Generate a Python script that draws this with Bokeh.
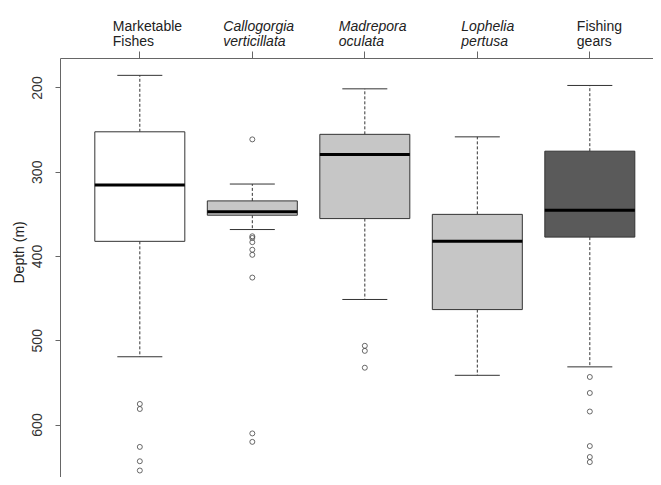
from bokeh.plotting import figure
from bokeh.layouts import column
from bokeh.models import Range1d, LinearAxis, FixedTicker, ColumnDataSource, Title
from bokeh.core.properties import value
from bokeh.embed import file_html
from bokeh.resources import INLINE

# ---------------- data ----------------
categories = ["Marketable Fishes", "Callogorgia verticillata", "Madrepora oculata",
              "Lophelia pertusa", "Fishing gears"]
label_line1 = ["Marketable", "Callogorgia", "Madrepora", "Lophelia", "Fishing"]
label_line2 = ["Fishes", "verticillata", "oculata", "pertusa", "gears"]
label_italic = [False, True, True, True, False]

whisker_top = [185, 314, 201, 258, 197]
q1 = [252, 334, 255, 350, 275]
median = [315, 347, 279, 382, 345]
q3 = [382, 351, 355, 463, 377]
whisker_bottom = [519, 368, 451, 541, 531]

outliers_marketable = [575, 581, 626, 643, 654]
outliers_callogorgia = [261, 376, 378, 383, 392, 398, 425, 610, 620]
outliers_madrepora = [506, 512, 532]
outliers_lophelia = []
outliers_fishing = [543, 562, 584, 625, 638, 644]

y_ticks = [200, 300, 400, 500, 600]

# ---------------- styles ----------------
box_fill = ["#ffffff", "#c6c6c6", "#c6c6c6", "#c6c6c6", "#5a5a5a"]
label_x_offset = [-27, -29, -26, -16, -13]
FONT = "Liberation Sans"
box_width = 0.8
staple_width = 0.4
W = 653
HEADER_H = 51
MAIN_H = 426

positions = list(range(1, len(categories) + 1))
outliers = [outliers_marketable, outliers_callogorgia, outliers_madrepora,
            outliers_lophelia, outliers_fishing]
out_x = [positions[i] for i, o in enumerate(outliers) for _ in o]
out_y = [v for o in outliers for v in o]

src = ColumnDataSource(dict(
    x=positions, q1=q1, q3=q3, med=median, wt=whisker_top, wb=whisker_bottom,
    fill=box_fill,
    bl=[x - box_width / 2 for x in positions], br=[x + box_width / 2 for x in positions],
    sl=[x - staple_width / 2 for x in positions], sr=[x + staple_width / 2 for x in positions],
))

x_range = Range1d(0.295, 5.566)

# ---------------- header with category labels ----------------
hdr = figure(width=W, height=HEADER_H, output_backend="svg", toolbar_location=None,
             x_range=x_range, y_range=Range1d(0, HEADER_H),
             x_axis_location=None, y_axis_location=None,
             min_border_left=60, min_border_right=0, min_border_top=0, min_border_bottom=0,
             outline_line_color=None, border_fill_color="white", background_fill_color="white")
hdr.grid.grid_line_color = None
lab_src = ColumnDataSource(dict(
    x=positions, l1=label_line1, l2=label_line2, dx=label_x_offset,
    style=["italic" if it else "normal" for it in label_italic],
    y1=[26] * len(positions), y2=[11] * len(positions),
))
for col, ycol in (("l1", "y1"), ("l2", "y2")):
    hdr.text(x="x", y=ycol, text=col, x_offset="dx", source=lab_src,
             text_align="left", text_baseline="alphabetic",
             text_font=value(FONT), text_font_style="style",
             text_font_size="14px", text_color="#222222")

# ---------------- main box plot ----------------
p = figure(width=W, height=MAIN_H, output_backend="svg", toolbar_location=None,
           x_range=x_range, y_range=Range1d(662.3, 165.0),
           x_axis_location=None, y_axis_location="left",
           min_border_left=60, min_border_top=0, min_border_right=0, min_border_bottom=0,
           outline_line_color=None, background_fill_color="white",
           border_fill_color="white")
p.grid.grid_line_color = None

line_col = "#333333"
p.segment(x0="x", y0="q1", x1="x", y1="wt", source=src, line_color=line_col,
          line_width=1, line_dash="3 2")
p.segment(x0="x", y0="q3", x1="x", y1="wb", source=src, line_color=line_col,
          line_width=1, line_dash="3 2")
p.segment(x0="sl", y0="wt", x1="sr", y1="wt", source=src, line_color=line_col, line_width=1)
p.segment(x0="sl", y0="wb", x1="sr", y1="wb", source=src, line_color=line_col, line_width=1)
p.vbar(x="x", width=box_width, top="q1", bottom="q3", source=src, fill_color="fill",
       line_color=line_col, line_width=1)
p.segment(x0="bl", y0="med", x1="br", y1="med", source=src, line_color="black", line_width=3)
p.scatter(out_x, out_y, marker="circle", size=5, fill_color=None, line_color="#444444",
          line_width=0.8)

ya = p.yaxis[0]
ya.ticker = FixedTicker(ticks=y_ticks)
ya.major_label_orientation = "vertical"
ya.major_label_text_font = FONT
ya.major_label_text_font_size = "14px"
ya.major_label_text_color = "#333333"
ya.major_label_standoff = 13
ya.axis_line_color = "#666666"
ya.major_tick_line_color = "#666666"
ya.major_tick_out = 5
ya.major_tick_in = 0
ya.minor_tick_line_color = None

ta = LinearAxis(ticker=FixedTicker(ticks=positions),
                major_label_overrides={k: "" for k in positions},
                major_label_standoff=0,
                axis_line_color="#666666", major_tick_line_color="#666666",
                major_tick_out=7, major_tick_in=0, minor_tick_line_color=None)
p.add_layout(ta, "above")

p.add_layout(Title(text="Depth (m)", align="left", offset=194, standoff=5,
                   text_font=FONT, text_font_size="14px", text_font_style="normal",
                   text_color="#222222"), "left")

layout = column(hdr, p, spacing=0)
open("out.html", "w").write(file_html(layout, INLINE))
